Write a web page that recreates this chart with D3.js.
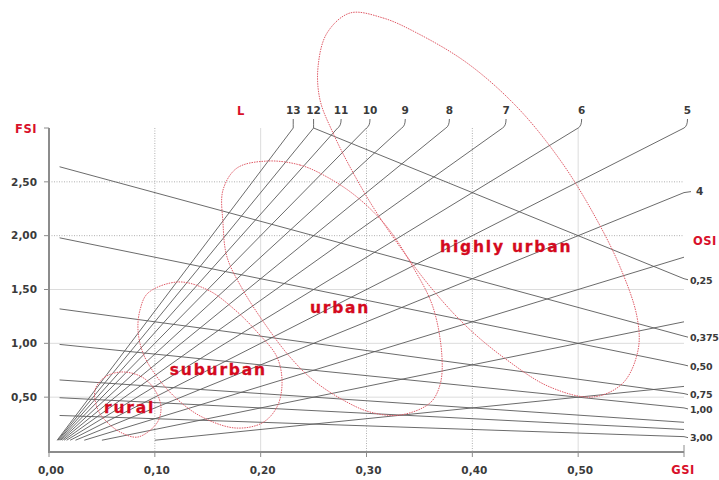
<!DOCTYPE html>
<html>
<head>
<meta charset="utf-8">
<script src="https://cdn.jsdelivr.net/npm/d3@7"></script>
<style>
    body { margin: 0; background: #fff; }
    .tick-label { font-family: 'DejaVu Sans', Verdana, sans-serif; font-size: 10.5px; font-weight: bold; fill: #3a3a3a; }
    .osi-label { font-family: 'DejaVu Sans', Verdana, sans-serif; font-size: 9.5px; font-weight: bold; fill: #3a3a3a; letter-spacing: -0.3px; }
    .axis-title { font-family: 'DejaVu Sans', Verdana, sans-serif; font-size: 11.5px; font-weight: bold; fill: #d8102a; letter-spacing: 0.5px; }
    .zone-label { font-family: 'DejaVu Sans', Verdana, sans-serif; font-size: 15.5px; font-weight: bold; fill: #d40a1e; stroke: #d40a1e; stroke-width: 0.3; letter-spacing: 1.8px; }
    .net { fill: none; stroke: #5a5a5a; stroke-width: 0.9; }
    .zone { fill: none; stroke: #e05a66; stroke-width: 1; stroke-dasharray: 1.5,1; }
</style>
</head>
<body>
<svg id="chart"></svg>
<script>
// data

let gsiTicks = [0, 0.1, 0.2, 0.3, 0.4, 0.5];
let fsiTicks = [0.5, 1.0, 1.5, 2.0, 2.5];
let dottedGsi = [0.1, 0.3, 0.4];
let dottedFsi = [2.0, 2.5];

// layers L: FSI = L * GSI
let layers = [1, 2, 3, 4, 5, 6, 7, 8, 9, 10, 11, 12, 13];
let layerLabels = [4, 5, 6, 7, 8, 9, 10, 11, 12, 13];

// open space index: FSI = (1 - GSI) / OSI
let osiValues = [0.25, 0.375, 0.5, 0.75, 1.0, 1.5, 2.0, 3.0];
let osiLabels = ['0,25', '0,375', '0,50', '0,75', '1,00', '', '', '3,00'];

// zone outlines, [GSI, FSI]
let ruralZone = [[0.0435, 0.567], [0.0529, 0.687], [0.069, 0.734], [0.0879, 0.687], [0.100, 0.567],
    [0.1058, 0.409], [0.102, 0.26], [0.0841, 0.13], [0.069, 0.167], [0.0557, 0.26], [0.0463, 0.381]];
let suburbanZone = [[0.1219, 1.57], [0.1502, 1.495], [0.1758, 1.31], [0.1975, 1.096], [0.2154, 0.873],
    [0.2202, 0.632], [0.2154, 0.409], [0.2013, 0.26], [0.1758, 0.214], [0.1446, 0.316], [0.1219, 0.474],
    [0.1021, 0.687], [0.0888, 0.91], [0.0841, 1.124], [0.086, 1.31], [0.0935, 1.467]];
let urbanZone = [[0.206, 2.693], [0.2372, 2.656], [0.2627, 2.545], [0.291, 2.359], [0.3194, 2.081],
    [0.3439, 1.709], [0.3628, 1.337], [0.3713, 0.873], [0.3694, 0.613], [0.36, 0.446], [0.3317, 0.334],
    [0.3033, 0.362], [0.2778, 0.474], [0.2495, 0.659], [0.2277, 0.873], [0.206, 1.152], [0.1833, 1.495],
    [0.1682, 1.802], [0.1644, 2.118], [0.1644, 2.424], [0.1776, 2.628]];
let highlyUrbanZone = [[0.2844, 4.068], [0.3156, 4.022], [0.3477, 3.882], [0.395, 3.604], [0.4422, 3.195],
    [0.4829, 2.703], [0.5141, 2.21], [0.5396, 1.709], [0.5556, 1.245], [0.5566, 0.938], [0.5424, 0.632],
    [0.5141, 0.502], [0.4734, 0.594], [0.4328, 0.845], [0.395, 1.152], [0.3628, 1.495], [0.3317, 1.895],
    [0.3062, 2.266], [0.2844, 2.638], [0.2684, 2.953], [0.2561, 3.26], [0.2542, 3.566], [0.2627, 3.882]];

let zoneNames = ['rural', 'suburban', 'urban', 'highly urban'];
let zoneLabelPos = [[0.0761, 0.353], [0.160, 0.706], [0.275, 1.282], [0.432, 1.85]];

// sizes

let width = 719;
let height = 480;
let gsiMax = 0.6;
let fsiMax = 3;
let fsiMin = 0.1;
let osiStart = 0.01;

let xScale = d3.scaleLinear()
    .domain([0, gsiMax])
    .range([49, 684]);

let yScale = d3.scaleLinear()
    .domain([0, fsiMax])
    .range([451, 128]);

let fmt = v => d3.format('.2f')(v).replace('.', ',');

let svg = d3.select('#chart')
    .attr('width', width)
    .attr('height', height);

// grid

let grid = svg.append('g');

grid.selectAll('.vgrid')
    .data(gsiTicks.slice(1))
    .enter()
    .append('line')
    .attr('x1', d => xScale(d))
    .attr('x2', d => xScale(d))
    .attr('y1', yScale(fsiMax))
    .attr('y2', yScale(0))
    .style('stroke', d => dottedGsi.includes(d) ? '#b0b0b0' : '#dcdcdc')
    .style('stroke-width', 1)
    .style('stroke-dasharray', d => dottedGsi.includes(d) ? '1,1.5' : null);

grid.selectAll('.hgrid')
    .data(fsiTicks)
    .enter()
    .append('line')
    .attr('x1', xScale(0))
    .attr('x2', xScale(gsiMax))
    .attr('y1', d => yScale(d))
    .attr('y2', d => yScale(d))
    .style('stroke', d => dottedFsi.includes(d) ? '#b0b0b0' : '#dcdcdc')
    .style('stroke-width', 1)
    .style('stroke-dasharray', d => dottedFsi.includes(d) ? '1,1.5' : null);

// L lines

let net = svg.append('g');

layers.forEach(l => {
    let g0 = fsiMin / l;
    let g1 = Math.min(gsiMax, fsiMax / l);
    net.append('line')
        .attr('class', 'net')
        .attr('x1', xScale(g0))
        .attr('y1', yScale(l * g0))
        .attr('x2', xScale(g1))
        .attr('y2', yScale(l * g1));

    if (!layerLabels.includes(l)) return;
    let ex = xScale(g1);
    let ey = yScale(l * g1);
    if (g1 < gsiMax || l * g1 >= fsiMax) {
        // label above the top
        let lx = l >= 12 ? ex : ex + 3.5;
        net.append('path')
            .attr('class', 'net')
            .attr('d', `M${ex},${ey} Q${lx},${ey - 2} ${lx},${ey - 9}`);
        svg.append('text')
            .attr('class', 'tick-label')
            .attr('x', lx)
            .attr('y', ey - 14)
            .style('text-anchor', 'middle')
            .text(l);
    } else {
        // label at the right
        net.append('line')
            .attr('class', 'net')
            .attr('x1', ex).attr('y1', ey)
            .attr('x2', ex + 7).attr('y2', ey - 1);
        svg.append('text')
            .attr('class', 'tick-label')
            .attr('x', ex + 12)
            .attr('y', ey - 1)
            .attr('dy', '0.35em')
            .text(l);
    }
});

// OSI lines

osiValues.forEach((o, i) => {
    let g0 = Math.max(osiStart, 1 - fsiMax * o);
    let ex = xScale(gsiMax);
    let ey = yScale((1 - gsiMax) / o);
    net.append('line')
        .attr('class', 'net')
        .attr('x1', xScale(g0))
        .attr('y1', yScale((1 - g0) / o))
        .attr('x2', ex)
        .attr('y2', ey);

    if (osiLabels[i] === '') return;
    net.append('line')
        .attr('class', 'net')
        .attr('x1', ex).attr('y1', ey)
        .attr('x2', ex + 4).attr('y2', ey + 1);
    svg.append('text')
        .attr('class', 'osi-label')
        .attr('x', ex + 6)
        .attr('y', ey + 1.5)
        .attr('dy', '0.35em')
        .text(osiLabels[i]);
});

// zones

let zoneLine = d3.line()
    .x(d => xScale(d[0]))
    .y(d => yScale(d[1]))
    .curve(d3.curveCatmullRomClosed);

svg.append('g')
    .selectAll('path')
    .data([ruralZone, suburbanZone, urbanZone, highlyUrbanZone])
    .enter()
    .append('path')
    .attr('class', 'zone')
    .attr('d', zoneLine);

svg.append('g')
    .selectAll('text')
    .data(zoneNames)
    .enter()
    .append('text')
    .attr('class', 'zone-label')
    .attr('x', (d, i) => xScale(zoneLabelPos[i][0]))
    .attr('y', (d, i) => yScale(zoneLabelPos[i][1]))
    .style('text-anchor', 'middle')
    .text(d => d);

// axes

let axes = svg.append('g');

axes.append('line')
    .attr('x1', xScale(0)).attr('x2', xScale(0))
    .attr('y1', yScale(fsiMax)).attr('y2', yScale(0) + 1)
    .style('stroke', '#8c8c8c').style('stroke-width', 2);

axes.append('line')
    .attr('x1', xScale(0) - 1).attr('x2', xScale(gsiMax))
    .attr('y1', yScale(0) + 1).attr('y2', yScale(0) + 1)
    .style('stroke', '#8c8c8c').style('stroke-width', 2);

// y ticks
axes.selectAll('.ytick')
    .data(fsiTicks.concat([fsiMax]))
    .enter()
    .append('line')
    .attr('x1', xScale(0) - 5).attr('x2', xScale(0))
    .attr('y1', d => yScale(d)).attr('y2', d => yScale(d))
    .style('stroke', '#8c8c8c');

axes.selectAll('.ylabel')
    .data(fsiTicks)
    .enter()
    .append('text')
    .attr('class', 'tick-label')
    .attr('x', 37)
    .attr('y', d => yScale(d))
    .attr('dy', '0.35em')
    .style('text-anchor', 'end')
    .text(fmt);

// x ticks
axes.selectAll('.xtick')
    .data(gsiTicks.concat([gsiMax]))
    .enter()
    .append('line')
    .attr('x1', d => xScale(d)).attr('x2', d => xScale(d))
    .attr('y1', d => d === gsiMax ? yScale(0) - 6 : yScale(0)).attr('y2', yScale(0) + 6)
    .style('stroke', '#8c8c8c');

axes.selectAll('.xlabel')
    .data(gsiTicks)
    .enter()
    .append('text')
    .attr('class', 'tick-label')
    .attr('x', d => xScale(d) + 2)
    .attr('y', 470)
    .attr('dy', '0.35em')
    .style('text-anchor', 'middle')
    .text(fmt);

// titles
svg.append('text')
    .attr('class', 'axis-title')
    .attr('x', 37)
    .attr('y', yScale(fsiMax) + 1)
    .attr('dy', '0.35em')
    .style('text-anchor', 'end')
    .text('FSI');

svg.append('text')
    .attr('class', 'axis-title')
    .attr('x', xScale(gsiMax) - 1)
    .attr('y', 470)
    .attr('dy', '0.35em')
    .style('text-anchor', 'middle')
    .text('GSI');

svg.append('text')
    .attr('class', 'axis-title')
    .attr('x', 241)
    .attr('y', 111)
    .attr('dy', '0.35em')
    .style('text-anchor', 'middle')
    .text('L');

svg.append('text')
    .attr('class', 'axis-title')
    .attr('x', 693)
    .attr('y', 241)
    .attr('dy', '0.35em')
    .text('OSI');
</script>
</body>
</html>
